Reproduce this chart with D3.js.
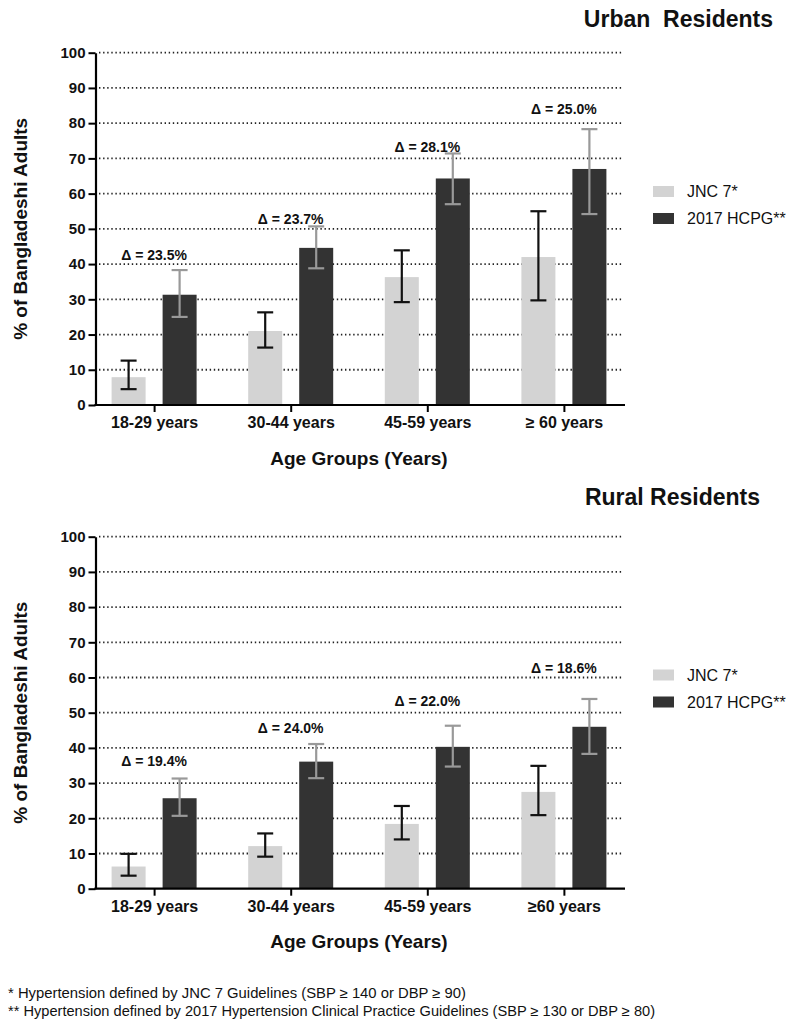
<!DOCTYPE html>
<html>
<head>
<meta charset="utf-8">
<script src="https://cdn.jsdelivr.net/npm/d3@7"></script>
<style>
  html, body { margin: 0; padding: 0; background: #ffffff; }
  svg { display: block; font-family: "Liberation Sans", Arial, Helvetica, sans-serif; }
</style>
</head>
<body>
<svg id="chart" width="800" height="1029"></svg>
<script>
// ---------- DATA ----------
const seriesNames = ["JNC 7*", "2017 HCPG**"];
const urbanCategories = ["18-29 years", "30-44 years", "45-59 years", "\u2265 60 years"];
const ruralCategories = ["18-29 years", "30-44 years", "45-59 years", "\u226560 years"];
const yTicks = [0, 10, 20, 30, 40, 50, 60, 70, 80, 90, 100];

const urbanJNC      = [7.9, 21.0, 36.3, 42.0];
const urbanJNCLow   = [4.5, 16.3, 29.2, 29.7];
const urbanJNCHigh  = [12.6, 26.3, 43.9, 55.0];
const urbanHCPG     = [31.3, 44.6, 64.3, 67.0];
const urbanHCPGLow  = [25.0, 38.8, 57.0, 54.2];
const urbanHCPGHigh = [38.3, 50.7, 71.4, 78.3];
const urbanDelta    = ["23.5", "23.7", "28.1", "25.0"];
const urbanDeltaAt  = [42.5, 52.8, 73.3, 83.9];

const ruralJNC      = [6.3, 12.1, 18.4, 27.5];
const ruralJNCLow   = [3.7, 9.1, 14.0, 20.9];
const ruralJNCHigh  = [9.9, 15.7, 23.5, 34.9];
const ruralHCPG     = [25.7, 36.1, 40.3, 46.0];
const ruralHCPGLow  = [20.7, 31.4, 34.7, 38.3];
const ruralHCPGHigh = [31.3, 41.1, 46.3, 53.9];
const ruralDelta    = ["19.4", "24.0", "22.0", "18.6"];
const ruralDeltaAt  = [36.2, 45.6, 53.3, 62.8];

const footnotes = [
  "* Hypertension defined by JNC 7 Guidelines (SBP \u2265 140 or DBP \u2265 90)",
  "** Hypertension defined by 2017 Hypertension Clinical Practice Guidelines (SBP \u2265 130 or DBP \u2265 80)"
];

// ---------- STYLE ----------
const lightFill = "#d3d3d3";
const darkFill = "#333333";
const errColors = ["#111111", "#999999"];

const svg = d3.select("#chart");

function drawPanel(cfg) {
  const g = svg.append("g");
  const y = d3.scaleLinear().domain([0, 100]).range([cfg.y0, cfg.y100]);
  const x = d3.scalePoint().domain(cfg.categories).range([94, 624]).padding(0.44);
  const xs = d3.scaleBand().domain(seriesNames).range([-42.5, 42.5]).paddingInner(1 / 3);

  // gridlines
  g.selectAll("line.grid").data(yTicks.filter(d => d > 0)).join("line")
    .attr("class", "grid")
    .attr("x1", 99).attr("x2", 622)
    .attr("y1", d => y(d)).attr("y2", d => y(d))
    .attr("stroke", "#222").attr("stroke-width", 1.8)
    .attr("stroke-dasharray", "1.4,2.7");

  // bars
  const rows = cfg.categories.map((c, i) => ({
    cat: c,
    vals: [
      { s: seriesNames[0], v: cfg.jnc[i], lo: cfg.jncLow[i], hi: cfg.jncHigh[i] },
      { s: seriesNames[1], v: cfg.hcpg[i], lo: cfg.hcpgLow[i], hi: cfg.hcpgHigh[i] }
    ],
    delta: cfg.delta[i],
    deltaAt: cfg.deltaAt[i]
  }));

  const grp = g.selectAll("g.cat").data(rows).join("g")
    .attr("class", "cat")
    .attr("transform", d => `translate(${x(d.cat)},0)`);

  grp.selectAll("rect").data(d => d.vals).join("rect")
    .attr("x", d => xs(d.s))
    .attr("width", xs.bandwidth())
    .attr("y", d => y(d.v))
    .attr("height", d => y(0) - y(d.v))
    .attr("fill", (d, i) => i === 0 ? lightFill : darkFill);

  // error bars
  const eb = grp.selectAll("g.err").data(d => d.vals).join("g").attr("class", "err")
    .attr("stroke", (d, i) => errColors[i]).attr("stroke-width", 2.2).attr("fill", "none");
  const cx = d => xs(d.s) + xs.bandwidth() / 2;
  eb.append("line").attr("x1", cx).attr("x2", cx).attr("y1", d => y(d.lo)).attr("y2", d => y(d.hi));
  eb.append("line").attr("x1", d => cx(d) - 8).attr("x2", d => cx(d) + 8).attr("y1", d => y(d.hi)).attr("y2", d => y(d.hi));
  eb.append("line").attr("x1", d => cx(d) - 8).attr("x2", d => cx(d) + 8).attr("y1", d => y(d.lo)).attr("y2", d => y(d.lo));

  // delta labels
  grp.append("text")
    .attr("x", 0).attr("y", d => y(d.deltaAt))
    .attr("dy", "0.35em")
    .attr("text-anchor", "middle")
    .attr("font-size", 14).attr("font-weight", "bold").attr("fill", "#111")
    .text(d => "\u0394 = " + d.delta + "%");

  // y axis
  const yAxis = g.append("g").attr("transform", "translate(95.5,0)")
    .call(d3.axisLeft(y).tickValues(yTicks).tickSize(7).tickSizeOuter(0).tickPadding(3));
  yAxis.select(".domain").attr("stroke", "#000").attr("stroke-width", 2.2);
  yAxis.selectAll(".tick line").attr("stroke", "#000").attr("stroke-width", 2);
  yAxis.selectAll(".tick text").attr("font-size", 15).attr("font-weight", "bold")
    .attr("fill", "#111").attr("font-family", "Liberation Sans, Arial, sans-serif");

  // x axis
  const xAxis = g.append("g").attr("transform", `translate(0,${cfg.y0})`)
    .call(d3.axisBottom(x).tickSize(7).tickSizeOuter(0).tickPadding(5));
  xAxis.select(".domain").remove();
  xAxis.append("line").attr("x1", 94.4).attr("x2", 625).attr("y1", 0).attr("y2", 0)
    .attr("stroke", "#000").attr("stroke-width", 2.2);
  xAxis.selectAll(".tick line").attr("stroke", "#000").attr("stroke-width", 2);
  xAxis.selectAll(".tick text").attr("font-size", 16).attr("font-weight", "bold")
    .attr("fill", "#111").attr("font-family", "Liberation Sans, Arial, sans-serif");

  // axis titles
  g.append("text")
    .attr("transform", `translate(20,${(cfg.y0 + cfg.y100) / 2}) rotate(-90)`)
    .attr("dy", "0.35em")
    .attr("text-anchor", "middle")
    .attr("font-size", 19).attr("font-weight", "bold").attr("fill", "#111")
    .text("% of Bangladeshi Adults");

  g.append("text")
    .attr("x", 359).attr("y", cfg.y0 + 53)
    .attr("dy", "0.35em")
    .attr("text-anchor", "middle")
    .attr("font-size", 19).attr("font-weight", "bold").attr("fill", "#111")
    .text("Age Groups (Years)");

  // panel title
  g.append("text")
    .attr("x", cfg.titleX).attr("y", cfg.titleY)
    .attr("text-anchor", "end")
    .attr("font-size", 23).attr("font-weight", "bold").attr("fill", "#111")
    .style("white-space", "pre")
    .text(cfg.title);

  // legend
  const lg = g.selectAll("g.leg").data(seriesNames).join("g").attr("class", "leg")
    .attr("transform", (d, i) => `translate(653,${cfg.legendY + i * 27})`);
  lg.append("rect").attr("width", 21).attr("height", 11)
    .attr("fill", (d, i) => i === 0 ? lightFill : darkFill);
  lg.append("text").attr("x", 34).attr("y", 5.5).attr("dy", "0.35em")
    .attr("font-size", 16).attr("fill", "#111")
    .text(d => d);
}

drawPanel({
  title: "Urban  Residents", titleX: 773, titleY: 27,
  categories: urbanCategories,
  jnc: urbanJNC, jncLow: urbanJNCLow, jncHigh: urbanJNCHigh,
  hcpg: urbanHCPG, hcpgLow: urbanHCPGLow, hcpgHigh: urbanHCPGHigh,
  delta: urbanDelta, deltaAt: urbanDeltaAt,
  y0: 405, y100: 52.7, legendY: 186
});

drawPanel({
  title: "Rural Residents", titleX: 760, titleY: 505,
  categories: ruralCategories,
  jnc: ruralJNC, jncLow: ruralJNCLow, jncHigh: ruralJNCHigh,
  hcpg: ruralHCPG, hcpgLow: ruralHCPGLow, hcpgHigh: ruralHCPGHigh,
  delta: ruralDelta, deltaAt: ruralDeltaAt,
  y0: 888.7, y100: 536.7, legendY: 669.5
});

// footnotes
svg.selectAll("text.foot").data(footnotes).join("text")
  .attr("class", "foot")
  .attr("x", 8).attr("y", (d, i) => 998 + i * 18)
  .attr("font-size", 14).attr("fill", "#111")
  .attr("textLength", (d, i) => i === 0 ? 458 : 647)
  .attr("lengthAdjust", "spacingAndGlyphs")
  .text(d => d);
</script>
</body>
</html>
